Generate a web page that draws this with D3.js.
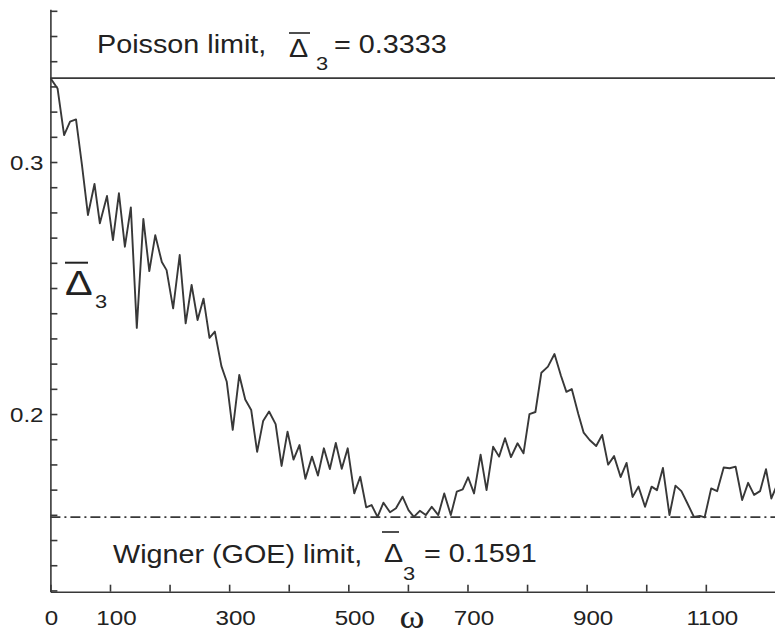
<!DOCTYPE html>
<html><head><meta charset="utf-8">
<script src="https://cdn.jsdelivr.net/npm/d3@7"></script>
<style>body{margin:0;background:#fff} svg{display:block}</style>
</head><body>
<script>
// ---- data ----
const omega = [0,12,23,33,43,53,63,74,83,95,105,115,125,135,145,156,166,176,187,195,
  206,217,227,237,247,257,267,276,287,296,306,317,327,337,347,357,367,378,388,398,
  408,418,428,439,449,459,469,479,489,499,510,520,530,539,549,559,570,580,591,601,
  610,620,630,640,651,661,672,682,692,701,711,722,732,743,753,763,773,784,794,804,
  814,824,835,846,857,866,875,886,895,905,916,926,936,946,957,967,977,987,998,1009,
  1018,1028,1039,1049,1059,1069,1080,1090,1098,1109,1119,1130,1140,1150,1161,1171,1181,1191,1201,1210,1218];
const delta3 = [0.3333,0.3292,0.3107,0.3160,0.3169,0.2988,0.2790,0.2913,0.2757,0.2865,
  0.2690,0.2876,0.2664,0.2820,0.2342,0.2774,0.2567,0.2710,0.2603,0.2571,
  0.2419,0.2631,0.2360,0.2512,0.2373,0.2458,0.2302,0.2327,0.2190,0.2128,
  0.1937,0.2155,0.2058,0.2016,0.1850,0.1972,0.2010,0.1960,0.1794,0.1930,
  0.1819,0.1877,0.1743,0.1831,0.1756,0.1864,0.1782,0.1885,0.1783,0.1864,
  0.1685,0.1751,0.1630,0.1639,0.1592,0.1648,0.1610,0.1626,0.1672,0.1619,
  0.1592,0.1616,0.1599,0.1632,0.1599,0.1685,0.1599,0.1692,0.1701,0.1749,
  0.1685,0.1839,0.1698,0.1870,0.1831,0.1904,0.1829,0.1884,0.1844,0.2000,
  0.2008,0.2164,0.2188,0.2238,0.2151,0.2088,0.2099,0.2000,0.1926,0.1897,
  0.1873,0.1917,0.1799,0.1833,0.1750,0.1806,0.1671,0.1712,0.1632,0.1712,
  0.1698,0.1786,0.1599,0.1716,0.1694,0.1646,0.1592,0.1596,0.1590,0.1705,
  0.1694,0.1788,0.1785,0.1791,0.1659,0.1727,0.1679,0.1694,0.1781,0.1665,0.1710];
const poissonLimit = 0.3333;
const wignerLimit = 0.1591;
const xTicks = [0,100,200,300,400,500,600,700,800,900,1000,1100];
const xTickLabels = [0,100,300,500,700,900,1100];
const yTicks = [0.13,0.14,0.15,0.16,0.17,0.18,0.19,0.20,0.21,0.22,0.23,0.24,0.25,0.26,0.27,0.28,0.29,0.30,0.31,0.32,0.33,0.34,0.35,0.36];
const yTickLabels = [0.2,0.3];
const poissonText = ["Poisson limit,", "Δ", "3", "= 0.3333"];
const wignerText = ["Wigner (GOE) limit,", "Δ", "3", "= 0.1591"];
const xLabel = "ω";
const yLabel = ["Δ", "3"];

// ---- drawing ----
const W = 775, H = 637, SX = 1.15;
const ink = "#383838", txt = "#222";
const sans = "'Liberation Sans', Arial, Helvetica, sans-serif";
const svg = d3.select("body").append("svg").attr("width", W).attr("height", H);
const x = d3.scaleLinear().domain([0, 1216.1]).range([50.4, 775]);
const y = d3.scaleLinear().domain([0.1295, 0.3606]).range([591.7, 9.3]);

svg.append("defs").append("clipPath").attr("id", "plot")
  .append("rect").attr("x", x(0)).attr("y", 0).attr("width", W - x(0)).attr("height", H);

// y axis
const yAxis = d3.axisLeft(y).tickValues(yTicks).tickSizeInner(-7).tickSizeOuter(0).tickPadding(6)
  .tickFormat(d => yTickLabels.some(v => Math.abs(v - d) < 1e-9) ? d3.format(".1f")(d) : "");
const gy = svg.append("g").attr("transform", `translate(${x(0)},0)`).call(yAxis);
gy.selectAll("path, line").attr("stroke", ink).attr("stroke-width", 1.6);
gy.selectAll("text").attr("font-family", sans).attr("font-size", 21).attr("fill", txt)
  .attr("dy", "0.36em").attr("transform", `scale(${SX},1)`);

// x axis
const xAxis = d3.axisBottom(x).tickValues(xTicks).tickSizeInner(-7).tickSizeOuter(0)
  .tickFormat(d => xTickLabels.includes(d) ? String(d) : "");
const gx = svg.append("g").attr("transform", `translate(0,${y(0.1295)})`).call(xAxis);
gx.selectAll("path, line").attr("stroke", ink).attr("stroke-width", 1.6);
gx.selectAll("text").attr("font-family", sans).attr("font-size", 21).attr("fill", txt)
  .attr("y", 0).attr("dy", 0)
  .attr("transform", d => `translate(${d === 0 ? 0.5 : 6},33) scale(${SX},1)`);

// limit lines
svg.append("line").attr("x1", x(0)).attr("x2", W).attr("y1", y(poissonLimit)).attr("y2", y(poissonLimit))
  .attr("stroke", ink).attr("stroke-width", 1.6);
svg.append("line").attr("x1", x(0)).attr("x2", W).attr("y1", y(wignerLimit)).attr("y2", y(wignerLimit))
  .attr("stroke", ink).attr("stroke-width", 1.6).attr("stroke-dasharray", "10,4,2,4");

// data curve
const pts = omega.map((o, i) => [o, delta3[i]]);
svg.append("path").datum(pts).attr("clip-path", "url(#plot)")
  .attr("fill", "none").attr("stroke", ink).attr("stroke-width", 1.9).attr("stroke-linejoin", "round")
  .attr("d", d3.line().x(d => x(d[0])).y(d => y(d[1])));

// text helper
function t(str, px, py, size, fam, anchor) {
  return svg.append("text").attr("transform", `translate(${px},${py}) scale(${SX},1)`)
    .attr("font-family", fam || sans).attr("font-size", size).attr("fill", txt)
    .attr("text-anchor", anchor || "start").text(str);
}
function bar(x1, x2, yy, w) {
  svg.append("line").attr("x1", x1).attr("x2", x2).attr("y1", yy).attr("y2", yy)
    .attr("stroke", txt).attr("stroke-width", w || 1.6);
}

// Poisson annotation
t(poissonText[0], 97, 53, 25);
t(poissonText[1], 289, 57, 25);
bar(289, 310, 33);
t(poissonText[2], 316, 70, 19);
t(poissonText[3], 334, 53, 25);

// Wigner annotation
t(wignerText[0], 113, 563, 25);
t(wignerText[1], 384, 562, 25);
bar(382, 399, 532);
t(wignerText[2], 403, 580, 19);
t(wignerText[3], 424, 562, 25);

// axis labels
t(yLabel[0], 65, 295, 36);
bar(65, 88, 262.7, 2);
t(yLabel[1], 95, 308, 19);
t(xLabel, 412, 628, 33, "'Liberation Serif', 'Times New Roman', serif", "middle");
</script>
</body></html>
